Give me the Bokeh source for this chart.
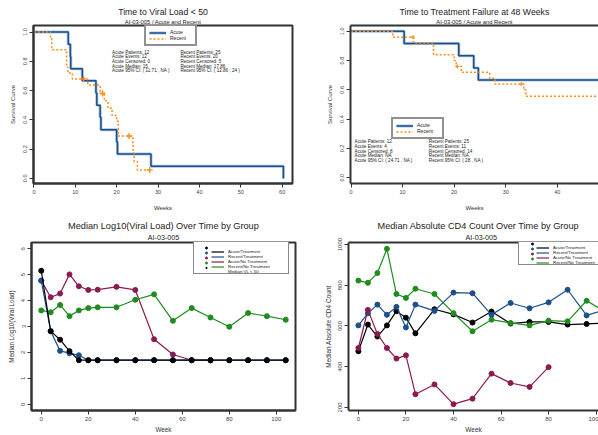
from bokeh.plotting import figure
from bokeh.layouts import column, row
from bokeh.models import (Title, Legend, LegendItem, Label, FixedTicker,
                          NumeralTickFormatter, Range1d, LinearAxis)
from bokeh.embed import file_html
from bokeh.resources import INLINE

FONT = "Liberation Sans"
TXT = "#222222"
FRAME = "#333333"

# ---------------- data ----------------
# Panel 1: Time to Viral Load < 50 (Kaplan-Meier steps: weeks, survival)
vl_acute_weeks = [0, 8.3, 8.8, 8.9, 11.7, 15.0, 15.2, 16.0, 16.2, 20.0, 20.2, 28.3, 60.3]
vl_acute_surv = [1.0, 0.917, 0.833, 0.75, 0.667, 0.583, 0.5, 0.417, 0.333, 0.25, 0.167, 0.083, 0.0]
vl_recent_weeks = [0, 4.0, 4.3, 7.9, 8.2, 9.3, 13.0, 16.0, 17.0, 17.9, 18.9, 20.0, 20.4,
                   23.9, 24.0, 24.2, 25.0, 28.0]
vl_recent_surv = [1.0, 0.96, 0.88, 0.76, 0.72, 0.68, 0.638, 0.58, 0.53, 0.48, 0.43, 0.39, 0.29,
                  0.232, 0.174, 0.116, 0.058, 0.058]
vl_recent_cens_weeks = [12.0, 16.6, 23.0, 28.0]
vl_recent_cens_surv = [0.68, 0.58, 0.29, 0.058]
vl_stats_acute = ["Acute Patients: 12", "Acute Events: 12", "Acute Censored: 0",
                  "Acute Median: 15", "Acute 95% CI: ( 11.71 , NA )"]
vl_stats_recent = ["Recent Patients: 25", "Recent Events: 20", "Recent Censored: 5",
                   "Recent Median: 17.86", "Recent 95% CI: ( 12.86 , 24 )"]

# Panel 2: Time to Treatment Failure at 48 Weeks
tf_acute_weeks = [0, 10.3, 20.9, 23.8, 24.7, 48]
tf_acute_surv = [1.0, 0.917, 0.833, 0.75, 0.667, 0.667]
tf_recent_weeks = [0, 8.1, 12.1, 16.0, 20.0, 20.4, 21.4, 26.9, 27.9, 33.5, 33.9, 48]
tf_recent_surv = [1.0, 0.96, 0.92, 0.84, 0.80, 0.76, 0.72, 0.68, 0.64, 0.60, 0.556, 0.556]
tf_recent_cens_weeks = [12.0, 20.6, 33.0]
tf_recent_cens_surv = [0.96, 0.76, 0.64]
tf_stats_acute = ["Acute Patients: 12", "Acute Events: 4", "Acute Censored: 8",
                  "Acute Median: NA", "Acute 95% CI: ( 24.71 , NA )"]
tf_stats_recent = ["Recent Patients: 25", "Recent Events: 11", "Recent Censored: 14",
                   "Recent Median: NA", "Recent 95% CI: ( 28 , NA )"]

# Panels 3 and 4: visit weeks
weeks = [0, 4, 8, 12, 16, 20, 24, 32, 40, 48, 56, 64, 72, 80, 88, 96, 104]
weeks_acute_notrt_vl = weeks[:13]
weeks_acute_notrt_cd4 = weeks[:14]

# Panel 3: median log10 viral load
vl_acute_trt = [5.15, 2.82, 2.49, 2.05, 1.70, 1.70, 1.70, 1.70, 1.70, 1.70, 1.70, 1.70, 1.70,
                1.70, 1.70, 1.70, 1.70]
vl_recent_trt = [4.77, 2.82, 2.06, 1.97, 1.89, 1.70, 1.70, 1.70, 1.70, 1.70, 1.70, 1.70, 1.70,
                 1.70, 1.70, 1.70, 1.70]
vl_acute_notrt = [4.77, 4.13, 4.27, 5.01, 4.55, 4.41, 4.42, 4.53, 4.41, 2.51, 1.92, 1.70, 1.70]
vl_recent_notrt = [3.62, 3.55, 3.83, 3.40, 3.62, 3.71, 3.74, 3.74, 4.03, 4.24, 3.22, 3.71, 3.35,
                   2.99, 3.52, 3.40, 3.26]
vl50_weeks = [16, 20, 24, 32, 40, 48, 56, 64, 72, 80, 88, 96, 104]
vl50_value = [1.70] * len(vl50_weeks)

# Panel 4: median absolute CD4 count
cd4_acute_trt = [476, 607, 548, 603, 673, 641, 564, 682, 657, 617, 671, 612, 620, 620, 607, 610, 615]
cd4_recent_trt = [603, 662, 705, 655, 694, 593, 705, 674, 764, 761, 655, 713, 687, 716, 778, 652, 681]
cd4_acute_notrt = [492, 679, 561, 492, 440, 456, 265, 313, 216, 243, 366, 320, 301, 398]
cd4_recent_notrt = [823, 812, 860, 979, 757, 738, 783, 757, 663, 574, 631, 615, 603, 626, 623, 724, 668]

group_labels = ["Acute/Treatment", "Recent/Treatment", "Acute/No Treatment", "Recent/No Treatment"]
group_colors = ["#000000", "#1b4f8c", "#8c1a4f", "#1f8c1f"]

C_ACUTE = "#1b4f8c"
C_ACUTE_HALO = "#a9c4e0"
C_RECENT = "#ff8c1a"


# ---------------- helpers ----------------
def make_fig(w, h, xr, yr, mbl, mbr, mbt, mbb, outline=True):
    p = figure(width=w, height=h, x_range=Range1d(*xr), y_range=Range1d(*yr),
               output_backend="svg", toolbar_location=None,
               min_border_left=mbl, min_border_right=mbr,
               min_border_top=mbt, min_border_bottom=mbb,
               background_fill_color="white", border_fill_color="white")
    p.xgrid.visible = False
    p.ygrid.visible = False
    if outline:
        p.outline_line_color = FRAME
        p.outline_line_width = 2
    else:
        p.outline_line_color = None
        top = LinearAxis(ticker=FixedTicker(ticks=[]), major_tick_out=0, major_tick_in=0,
                         minor_tick_out=0, minor_tick_in=0, major_label_standoff=0,
                         major_label_text_font_size="0px",
                         axis_line_color=FRAME, axis_line_width=2)
        p.add_layout(top, "above")
    return p


def style_axes(p, xticks, yticks, tick_size, label_size, xlabel, ylabel, yfmt=None,
               x_label_standoff=8, y_label_standoff=5):
    xa = p.below[0]
    ya = p.left[0]
    for ax in (xa, ya):
        ax.major_tick_out = 4
        ax.major_tick_in = 0
        ax.minor_tick_out = 0
        ax.minor_tick_in = 0
        ax.major_tick_line_color = FRAME
        ax.axis_line_color = FRAME
        ax.axis_line_width = 2
        ax.major_label_text_font = FONT
        ax.major_label_text_font_size = tick_size
        ax.major_label_text_color = "#444444"
        ax.axis_label_text_font = FONT
        ax.axis_label_text_font_size = label_size
        ax.axis_label_text_font_style = "normal"
        ax.axis_label_text_color = "#333333"
        ax.major_label_standoff = 2
    xa.axis_label_standoff = x_label_standoff
    ya.axis_label_standoff = y_label_standoff
    xa.axis_label = xlabel
    ya.axis_label = ylabel
    ya.major_label_orientation = "vertical"
    xa.ticker = FixedTicker(ticks=xticks)
    ya.ticker = FixedTicker(ticks=yticks)
    if yfmt:
        ya.formatter = NumeralTickFormatter(format=yfmt)


def add_titles(p, main, sub, main_size, sub_size, align="center", main_offset=0, sub_offset=0):
    p.add_layout(Title(text=sub, align=align, text_font=FONT, text_font_size=sub_size,
                       text_font_style="normal", text_color=TXT, standoff=1,
                       offset=sub_offset), "above")
    p.add_layout(Title(text=main, align=align, text_font=FONT, text_font_size=main_size,
                       text_font_style="normal", text_color=TXT, standoff=0,
                       offset=main_offset), "above")


def add_stats(p, x_left, x_right, ys, left_lines, right_lines, size="4.6px"):
    for y, a, b in zip(ys, left_lines, right_lines):
        for x, t in ((x_left, a), (x_right, b)):
            p.add_layout(Label(x=x, y=y, text=t, text_font=FONT, text_font_size=size,
                               text_color=TXT, text_baseline="middle"))


def km_legend(p, r_acute, r_recent, loc):
    leg = Legend(items=[LegendItem(label="Acute", renderers=r_acute),
                        LegendItem(label="Recent", renderers=[r_recent])],
                 location=loc, label_text_font=FONT, label_text_font_size="5px",
                 label_text_color=TXT, glyph_width=17, glyph_height=5, label_height=5,
                 label_width=22, spacing=0, padding=3, margin=0, label_standoff=4,
                 border_line_color="#222222", border_line_width=2,
                 background_fill_color="white", background_fill_alpha=1)
    p.add_layout(leg)


def group_legend(p, dot_rs, line_rs, labels, loc_dots, loc_lines, dot_gw):
    common = dict(label_text_font=FONT, label_text_font_size="4.4px", glyph_height=5,
                  label_height=5, spacing=0, padding=3, margin=0)
    dots = Legend(items=[LegendItem(label="", renderers=[r]) for r in dot_rs],
                  location=loc_dots, glyph_width=dot_gw, label_standoff=0, label_width=70,
                  border_line_color="#111111", border_line_width=1.5,
                  background_fill_color="white", background_fill_alpha=1, **common)
    lines = Legend(items=[LegendItem(label=l, renderers=[r]) for l, r in zip(labels, line_rs)],
                   location=loc_lines, glyph_width=13, label_standoff=4,
                   label_text_color=TXT, border_line_color=None,
                   background_fill_alpha=0, **common)
    p.add_layout(dots)
    p.add_layout(lines)


# ---------------- panel 1 ----------------
p1 = make_fig(298, 215, (-0.1, 62.5), (-0.035, 1.045), 33, 6, 25, 30)
style_axes(p1, [0, 10, 20, 30, 40, 50, 60], [0, 0.2, 0.4, 0.6, 0.8, 1.0], "5.5px", "6px",
           "Weeks", "Survival Curve", "0.0")
add_titles(p1, "Time to Viral Load < 50", "AI-03-005 / Acute and Recent", "8.7px", "5.8px")
h1 = p1.step(vl_acute_weeks, vl_acute_surv, mode="after", line_color=C_ACUTE_HALO, line_width=3)
a1 = p1.step(vl_acute_weeks, vl_acute_surv, mode="after", line_color=C_ACUTE, line_width=1.5)
r1 = p1.step(vl_recent_weeks, vl_recent_surv, mode="after", line_color=C_RECENT, line_width=1.5,
             line_dash="2 2")
p1.scatter(vl_recent_cens_weeks, vl_recent_cens_surv, marker="cross", size=6,
           line_color=C_RECENT, line_width=1.4)
km_legend(p1, [h1, a1], r1, (111, 137))
add_stats(p1, 18.9, 35.4, [0.862, 0.830, 0.798, 0.766, 0.734], vl_stats_acute, vl_stats_recent)

# ---------------- panel 2 ----------------
p2 = make_fig(300, 215, (-0.1, 48), (-0.04, 1.04), 52, 0, 25, 32, outline=False)
style_axes(p2, [0, 10, 20, 30, 40], [0, 0.2, 0.4, 0.6, 0.8, 1.0], "5.5px", "6px",
           "Weeks", "Survival Curve", "0.0")
add_titles(p2, "Time to Treatment Failure at 48 Weeks", "AI-03-005 / Acute and Recent", "8.7px", "5.8px")
h2 = p2.step(tf_acute_weeks, tf_acute_surv, mode="after", line_color=C_ACUTE_HALO, line_width=3)
a2 = p2.step(tf_acute_weeks, tf_acute_surv, mode="after", line_color=C_ACUTE, line_width=1.5)
r2 = p2.step(tf_recent_weeks, tf_recent_surv, mode="after", line_color=C_RECENT, line_width=1.5,
             line_dash="2 2")
p2.scatter(tf_recent_cens_weeks, tf_recent_cens_surv, marker="cross", size=4,
           line_color=C_RECENT, line_width=1.2)
km_legend(p2, [h2, a2], r2, (41, 44))
add_stats(p2, 0.7, 15.1, [0.245, 0.213, 0.181, 0.150, 0.118], tf_stats_acute, tf_stats_recent)

# ---------------- panel 3 ----------------
p3 = make_fig(298, 220, (-4.16, 108.16), (-0.24, 6.24), 31, 3, 27, 22)
style_axes(p3, [0, 20, 40, 60, 80, 100], [0, 1, 2, 3, 4, 5, 6], "6px", "6.3px",
           "Week", "Median Log10(Viral Load)", x_label_standoff=2, y_label_standoff=4)
add_titles(p3, "Median Log10(Viral Load) Over Time by Group", "AI-03-005", "9.2px", "7.2px")
series3 = [(weeks, vl_acute_trt), (weeks, vl_recent_trt),
           (weeks_acute_notrt_vl, vl_acute_notrt), (weeks, vl_recent_notrt)]
draw_order = [2, 3, 1, 0]
lines3 = [None] * 4
dots3 = [None] * 4
for i in draw_order:
    xs, ys = series3[i]
    lines3[i] = p3.line(xs, ys, line_color=group_colors[i], line_width=1.2)
    dots3[i] = p3.scatter(xs, ys, marker="circle", size=5, fill_color=group_colors[i],
                          line_color=group_colors[i])
x3 = p3.scatter(vl50_weeks, vl50_value, marker="x", size=5, line_color="#000000", line_width=1.8)
blank3 = p3.line(vl50_weeks, vl50_value, line_alpha=0)
group_legend(p3, dots3 + [x3], lines3 + [blank3], group_labels + ["Median VL < 50"],
             (162, 136), (180, 136), 18)

# ---------------- panel 4 ----------------
p4 = make_fig(300, 220, (-4.16, 101), (185, 1010), 50, 0, 23, 24, outline=False)
style_axes(p4, [0, 20, 40, 60, 80, 100], [200, 400, 600, 800, 1000], "6px", "6.5px",
           "Week", "Median Absolute CD4 Count", x_label_standoff=2, y_label_standoff=4)
add_titles(p4, "Median Absolute CD4 Count Over Time by Group", "AI-03-005", "9.2px", "7.2px",
           align="left", main_offset=29, sub_offset=117)
series4 = [(weeks, cd4_acute_trt), (weeks, cd4_recent_trt),
           (weeks_acute_notrt_cd4, cd4_acute_notrt), (weeks, cd4_recent_notrt)]
lines4 = []
dots4 = []
for i in range(4):
    xs, ys = series4[i]
    lines4.append(p4.line(xs, ys, line_color=group_colors[i], line_width=1.2))
    dots4.append(p4.scatter(xs, ys, marker="circle", size=5, fill_color=group_colors[i],
                            line_color=group_colors[i]))
group_legend(p4, dots4, lines4, group_labels, (170, 145), (188, 145), 20)

layout = column(row(p1, p2), row(p3, p4))
open("out.html", "w").write(file_html(layout, INLINE))
